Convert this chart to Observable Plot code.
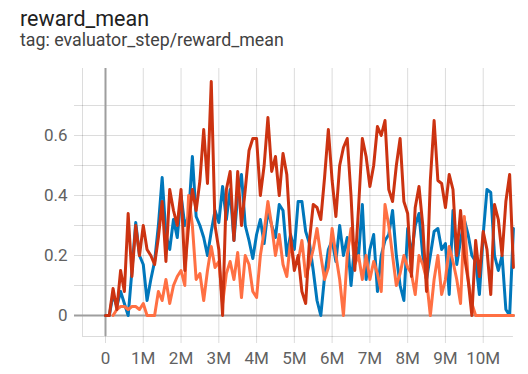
<!DOCTYPE html>
<html><head><meta charset="utf-8">
<script src="https://cdn.jsdelivr.net/npm/d3@7"></script>
<script src="https://cdn.jsdelivr.net/npm/@observablehq/plot@0.6"></script>
<style>
body{margin:0;background:#fff;font-family:Roboto,sans-serif;}
#title{position:absolute;left:20px;top:6px;font-size:21.5px;line-height:1.17;color:#212121;white-space:nowrap;}
#sub{position:absolute;left:20px;top:30px;font-size:17.8px;line-height:1.17;color:#424242;white-space:nowrap;}
#chart{position:absolute;left:0;top:60px;}
</style></head><body>
<div id="title">reward_mean</div>
<div id="sub">tag: evaluator_step/reward_mean</div>
<div id="chart"></div>
<script>
const stepInterval = 100000;
const seriesNames = ["blue run", "orange run", "red run"];
const seriesColors = ["#0077bb", "#ff7043", "#cc3311"];
const red = [0,0,0.09,0.02,0.15,0.08,0.34,0.13,0.3,0.2, 0.3,0.22,0.2,0.17,0.26,0.38,0.18,0.42,0.35,0.3, 0.42,0.15,0.3,0.42,0.35,0.45,0.62,0.44,0.78,0.3, 0.22,0.0,0.42,0.48,0.25,0.48,0.3,0.42,0.55,0.59, 0.59,0.4,0.5,0.66,0.48,0.53,0.4,0.54,0.47,0.26, 0.15,0.2,0.08,0.04,0.25,0.37,0.36,0.32,0.46,0.62, 0.45,0.33,0.5,0.56,0.59,0.4,0.15,0.36,0.59,0.53, 0.43,0.5,0.63,0.6,0.65,0.42,0.38,0.5,0.59,0.38, 0.34,0.13,0.36,0.43,0.3,0.08,0.45,0.65,0.45,0.44, 0.36,0.47,0.42,0.2,0.35,0.2,0.12,0.0,0.25,0.13, 0.28,0.22,0.07,0.37,0.32,0.2,0.38,0.47,0.16];
const blue = [0,0,0.07,0.03,0.08,0.04,0.0,0.15,0.31,0.2, 0.17,0.05,0.12,0.18,0.3,0.46,0.27,0.22,0.32,0.26, 0.4,0.3,0.33,0.53,0.33,0.3,0.26,0.2,0.28,0.35, 0.31,0.43,0.32,0.42,0.25,0.4,0.47,0.3,0.25,0.19, 0.27,0.32,0.24,0.35,0.3,0.26,0.37,0.35,0.2,0.27, 0.22,0.38,0.38,0.28,0.24,0.15,0.05,0.0,0.13,0.22, 0.25,0.18,0.3,0.2,0.26,0.1,0.24,0.2,0.37,0.12, 0.22,0.27,0.08,0.2,0.25,0.27,0.35,0.2,0.1,0.05, 0.29,0.2,0.3,0.34,0.2,0.12,0.2,0.28,0.29,0.22, 0.24,0.07,0.35,0.17,0.25,0.32,0.27,0.2,0.18,0.07, 0.27,0.42,0.41,0.2,0.15,0.2,0.02,0.0,0.29];
const orange = [null,null,0,0.02,0.03,0.03,0.02,0.03,0.03,0.02, 0.04,0,0,0,0.08,0.05,0.12,0.04,0.1,0.13, 0.15,0.1,0.4,0.3,0.12,0.14,0.05,0.15,0.23,0.16, 0.18,0.04,0.14,0.18,0.12,0.21,0.06,0.2,0.17,0.08, 0.06,0.2,0.28,0.38,0.3,0.2,0.27,0.17,0.13,0.25, 0.17,0.18,0.25,0.13,0.17,0.22,0.29,0.2,0.12,0.16, 0.29,0.2,0.12,0,0.2,0.29,0.17,0.2,0.12,0.2, 0.12,0.18,0.14,0.08,0.37,0.3,0.2,0.1,0.14,0.2, 0.16,0.14,0.07,0.2,0.17,0.12,0,0.12,0.2,0.07, 0.12,0.23,0.18,0.12,0.04,0.33,0.12,0.04,0,0, 0,0,0,0,0,0,0,0,0];
const xTicks = [0,1e6,2e6,3e6,4e6,5e6,6e6,7e6,8e6,9e6,10e6];
const xTickLabels = ["0","1M","2M","3M","4M","5M","6M","7M","8M","9M","10M"];
const yGrid = [0,0.1,0.2,0.3,0.4,0.5,0.6,0.7];
const yTicks = [0,0.2,0.4,0.6];
const yTickLabels = ["0","0.2","0.4","0.6"];

const rows = [];
[blue, orange, red].forEach((vals, k) => {
  vals.forEach((v, i) => rows.push({run: seriesNames[k], step: i * stepInterval, value: v}));
});

const xMin = -0.8208e6, xMax = 10.855e6;
const yMin = -0.0933, yMax = 0.8233;
const axisLeftStep = -0.609e6, axisBottomVal = -0.07;

const chart = Plot.plot({
  width: 528, height: 314,
  marginTop: 8, marginBottom: 31, marginLeft: 74, marginRight: 13,
  x: {domain: [xMin, xMax]},
  y: {domain: [yMin, yMax]},
  color: {domain: seriesNames, range: seriesColors},
  style: {fontFamily: "Roboto, sans-serif", background: "white"},
  marks: [
    Plot.ruleY(yGrid, {stroke: "#000", strokeOpacity: 0.14}),
    Plot.ruleX(xTicks, {stroke: "#000", strokeOpacity: 0.14}),
    Plot.ruleX([axisLeftStep], {y1: axisBottomVal, y2: yMax, stroke: "#000", strokeOpacity: 0.14}),
    Plot.ruleY([axisBottomVal], {x1: axisLeftStep, x2: 10.8e6, stroke: "#000", strokeOpacity: 0.14}),
    Plot.ruleY([0], {stroke: "#9e9e9e", strokeWidth: 2}),
    Plot.ruleX([0], {y1: axisBottomVal, y2: yMax, stroke: "#9e9e9e", strokeWidth: 2}),
    Plot.line(rows, {x: "step", y: "value", z: "run", stroke: "run", strokeWidth: 3, strokeLinejoin: "round", strokeLinecap: "round"}),
    Plot.axisY({ticks: yTicks, tickSize: 0, tickPadding: 7, fontSize: 17, fill: "#616161", label: null,
      tickFormat: d => yTickLabels[yTicks.indexOf(d)]}),
    Plot.axisX({ticks: xTicks, tickSize: 0, tickPadding: 8, fontSize: 17, fill: "#616161", label: null,
      tickFormat: d => xTickLabels[xTicks.indexOf(d)]})
  ]
});
document.getElementById("chart").appendChild(chart);
</script>
</body></html>
